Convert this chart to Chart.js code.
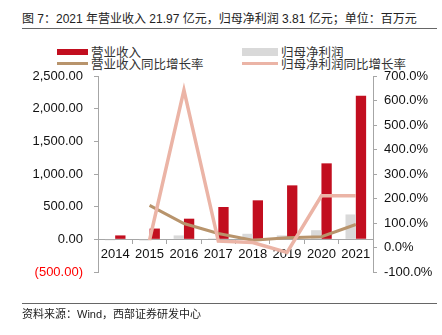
<!DOCTYPE html>
<html>
<head>
<meta charset="utf-8">
<script src="https://cdn.jsdelivr.net/npm/chart.js@4.4.0/dist/chart.umd.min.js"></script>
<style>
  body { margin: 0; background: #fff; }
  #wrap { position: relative; width: 442px; height: 335px; font-family: "Liberation Sans", "Noto Sans CJK SC", sans-serif; color: #222; }
  #titulo { position: absolute; left: 22px; top: 9px; font-size: 12px; white-space: nowrap; }
  .linea { position: absolute; left: 22px; width: 415px; height: 1px; background: #666; }
  #fuente { position: absolute; left: 22px; top: 305px; font-size: 11px; white-space: nowrap; }
  #leyenda .item { position: absolute; font-size: 12.5px; white-space: nowrap; display: flex; align-items: center; color: #333; }
  #leyenda .sw { display: inline-block; margin-right: 3px; }
  canvas { position: absolute; left: 0; top: 0; }
</style>
</head>
<body>
<div id="wrap">
  <div id="titulo">图 7：2021 年营业收入 21.97 亿元，归母净利润 3.81 亿元；单位：百万元</div>
  <div class="linea" style="top:28px"></div>
  <div id="leyenda"></div>
  <canvas id="grafico" width="442" height="335"></canvas>
  <div class="linea" style="top:303px"></div>
  <div id="fuente">资料来源：Wind，西部证券研发中心</div>
</div>
<script>
// Datos (百万元 / %)
var anios = ['2014', '2015', '2016', '2017', '2018', '2019', '2020', '2021'];
var ingresos = [60, 165, 316, 495, 597, 826, 1163, 2197];
var beneficio = [-15, -18, 60, 15, 85, 60, 140, 381];
var crecIngresos = [null, 172, 98, 57, 30, 40, 44, 94];
var crecBeneficio = [null, 30, 642, 26, 20, -20, 211, 211];

var nombres = ['营业收入', '归母净利润', '营业收入同比增长率', '归母净利润同比增长率'];
var colores = ['#C20E1F', '#D9D9D9', '#B8946C', '#EBB4A6'];

var gris = '#A6A6A6';

var ctx = document.getElementById('grafico').getContext('2d');
var grafico = new Chart(ctx, {
    type: 'bar',
    data: {
        labels: anios,
        datasets: [
            { type: 'bar', label: nombres[0], data: ingresos, backgroundColor: colores[0], yAxisID: 'y', order: 3,
              categoryPercentage: 0.6, barPercentage: 1.0 },
            { type: 'bar', label: nombres[1], data: beneficio, backgroundColor: colores[1], yAxisID: 'y', order: 2,
              categoryPercentage: 0.6, barPercentage: 1.0 },
            { type: 'line', label: nombres[2], data: crecIngresos, borderColor: colores[2], borderWidth: 3,
              pointRadius: 0, tension: 0, yAxisID: 'y1', order: 1 },
            { type: 'line', label: nombres[3], data: crecBeneficio, borderColor: colores[3], borderWidth: 3.5,
              pointRadius: 0, tension: 0, yAxisID: 'y1', order: 0 }
        ]
    },
    options: {
        responsive: false,
        animation: false,
        layout: { padding: { top: 76, bottom: 63, left: 0, right: 0 } },
        plugins: {
            legend: { display: false },
            tooltip: { enabled: false }
        },
        scales: {
            x: {
                position: { y: 0 },
                grid: { offset: true, drawOnChartArea: false, tickLength: 4, color: gris },
                border: { color: gris },
                ticks: { color: '#111', padding: 3, maxRotation: 0, minRotation: 0, autoSkip: false,
                         font: { family: 'Liberation Sans', size: 13 } }
            },
            y: {
                position: 'left',
                min: -500, max: 2500,
                grid: { drawOnChartArea: false, tickLength: 4, color: gris },
                border: { color: gris },
                ticks: {
                    stepSize: 500,
                    padding: 11,
                    font: { family: 'Liberation Sans', size: 13 },
                    color: function(c) { return c.tick && c.tick.value < 0 ? '#FF0000' : '#111'; },
                    callback: function(v) {
                        var s = Math.abs(v).toLocaleString('en-US', { minimumFractionDigits: 2, maximumFractionDigits: 2 });
                        return v < 0 ? '(' + s + ')' : s;
                    }
                },
                afterFit: function(scale) { scale.width = 98; }
            },
            y1: {
                position: 'right',
                min: -100, max: 700,
                grid: { drawOnChartArea: false, tickLength: 4, color: gris },
                border: { color: gris },
                ticks: {
                    stepSize: 100,
                    padding: 7,
                    color: '#111',
                    font: { family: 'Liberation Sans', size: 13 },
                    callback: function(v) { return v.toFixed(1) + '%'; }
                },
                afterFit: function(scale) { scale.width = 69; }
            }
        }
    }
});

// Leyenda en HTML a partir de los datasets
var posiciones = [[57, 50, 'bar'], [242, 50, 'bar'], [57, 62, 'line'], [242, 62, 'line']];
var leyenda = document.getElementById('leyenda');
grafico.data.datasets.forEach(function(ds, i) {
    var p = posiciones[i];
    var item = document.createElement('div');
    item.className = 'item';
    item.style.left = p[0] + 'px';
    item.style.top = (p[1] - 8) + 'px';
    var sw = document.createElement('span');
    sw.className = 'sw';
    sw.style.width = (i % 2 === 0 ? 31 : 36) + 'px';
    sw.style.height = p[2] === 'bar' ? (i === 0 ? '6px' : '8px') : '3px';
    sw.style.background = ds.type === 'bar' ? ds.backgroundColor : ds.borderColor;
    item.appendChild(sw);
    item.appendChild(document.createTextNode(ds.label));
    leyenda.appendChild(item);
});
</script>
</body>
</html>
